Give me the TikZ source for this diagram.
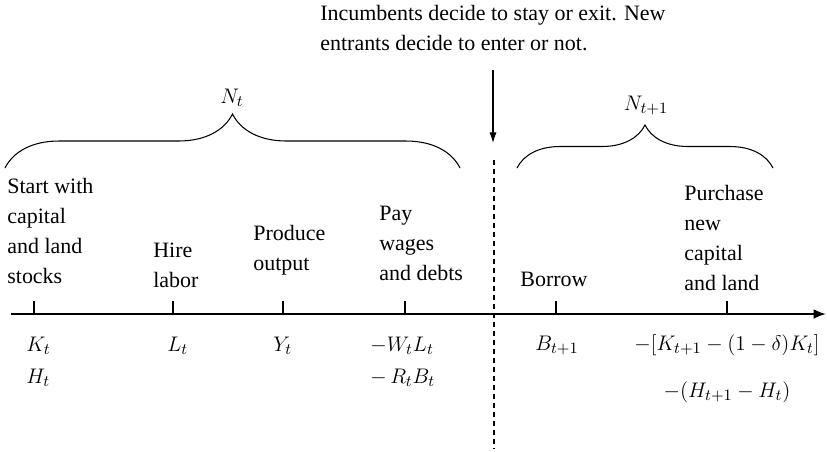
\documentclass[tikz,border=0pt]{standalone}
\usepackage{fontspec}
\setmainfont{Liberation Serif}
\usepackage{amsmath}
\usetikzlibrary{arrows.meta,decorations.pathreplacing}

\begin{document}
\begin{tikzpicture}[
    x=0.02cm, y=-0.02cm,
    lbl/.style={inner sep=0pt, align=left, anchor=base west, font=\fontsize{12.5}{17}\selectfont},
    mth/.style={inner sep=0pt, anchor=base west, font=\fontsize{12.5}{15}\selectfont},
    tickmark/.style={line width=0.6pt},
    timeline/.style={line width=1.1pt, -{Latex[length=7pt,width=5.5pt]}},
    brc/.style={decorate, decoration={brace, amplitude=#1}, line width=0.6pt},
    >={Latex[length=6pt,width=4pt]},
]
    \useasboundingbox (0,0) rectangle (827,451);

    % Time line with ticks
    \coordinate (ax0) at (11,314);
    \coordinate (ax1) at (826,314);
    \draw[timeline] (ax0) -- (ax1);
    \foreach \nm/\xx in {tK/34, tL/173, tY/283, tW/405, tB/556, tP/727} {
        \coordinate (\nm) at (\xx,314);
        \draw[tickmark] (\nm) -- ++(0,-13);
    }

    % Stages of period t (placed at the baseline of the last line)
    \node[lbl] (start) at (7,283) {Start with\\capital\\and land\\stocks};
    \node[lbl] (hire) at (153,287) {Hire\\labor};
    \node[lbl] (prod) at (253,270) {Produce\\output};
    \node[lbl] (pay) at (379,280) {Pay\\wages\\and debts};

    % Stages of period t+1
    \node[lbl, anchor=base] (borrow) at (554,286) {Borrow};
    \node[lbl] (purch) at (684,290) {Purchase\\new\\capital\\and land};

    % Flows below the line
    \node[mth] (kt) at (26,351) {$K_t$};
    \node[mth] (ht) at (26,383) {$H_t$};
    \node[mth] (lt) at (167,351) {$L_t$};
    \node[mth] (yt) at (273,351) {$Y_t$};
    \node[mth] (wl) at (370,351) {$-W_tL_t$};
    \node[mth] (rb) at (370,383) {$-\,R_tB_t$};
    \node[mth, anchor=base] (bt) at (557,350) {$B_{t+1}$};
    \node[mth, anchor=base] (kk) at (727,350) {$-[K_{t+1}-(1-\delta)K_t]$};
    \node[mth, anchor=base] (hh) at (727,397) {$-(H_{t+1}-H_t)$};

    % Braces over the two periods
    \draw[brc=1.08cm] (5,168) -- (460,168);
    \node[mth, anchor=base] (nt) at (232,103) {$N_t$};
    \draw[brc=0.86cm] (517,168) -- (773,168);
    \node[mth, anchor=base] (nt1) at (646,110) {$N_{t+1}$};

    % Exit / entry decision
    \node[lbl] (note) at (320,50) {Incumbents decide to stay or exit. New\\entrants decide to enter or not.};
    \coordinate (arrtop) at (493,70);
    \coordinate (arrbot) at (493,143);
    \draw[->, line width=0.6pt] (arrtop) -- (arrbot);
    \coordinate (dtop) at (494,160);
    \coordinate (dbot) at (494,449);
    \draw[line width=0.6pt, dash pattern=on 1mm off 0.8mm] (dtop) -- (dbot);
\end{tikzpicture}
\end{document}
